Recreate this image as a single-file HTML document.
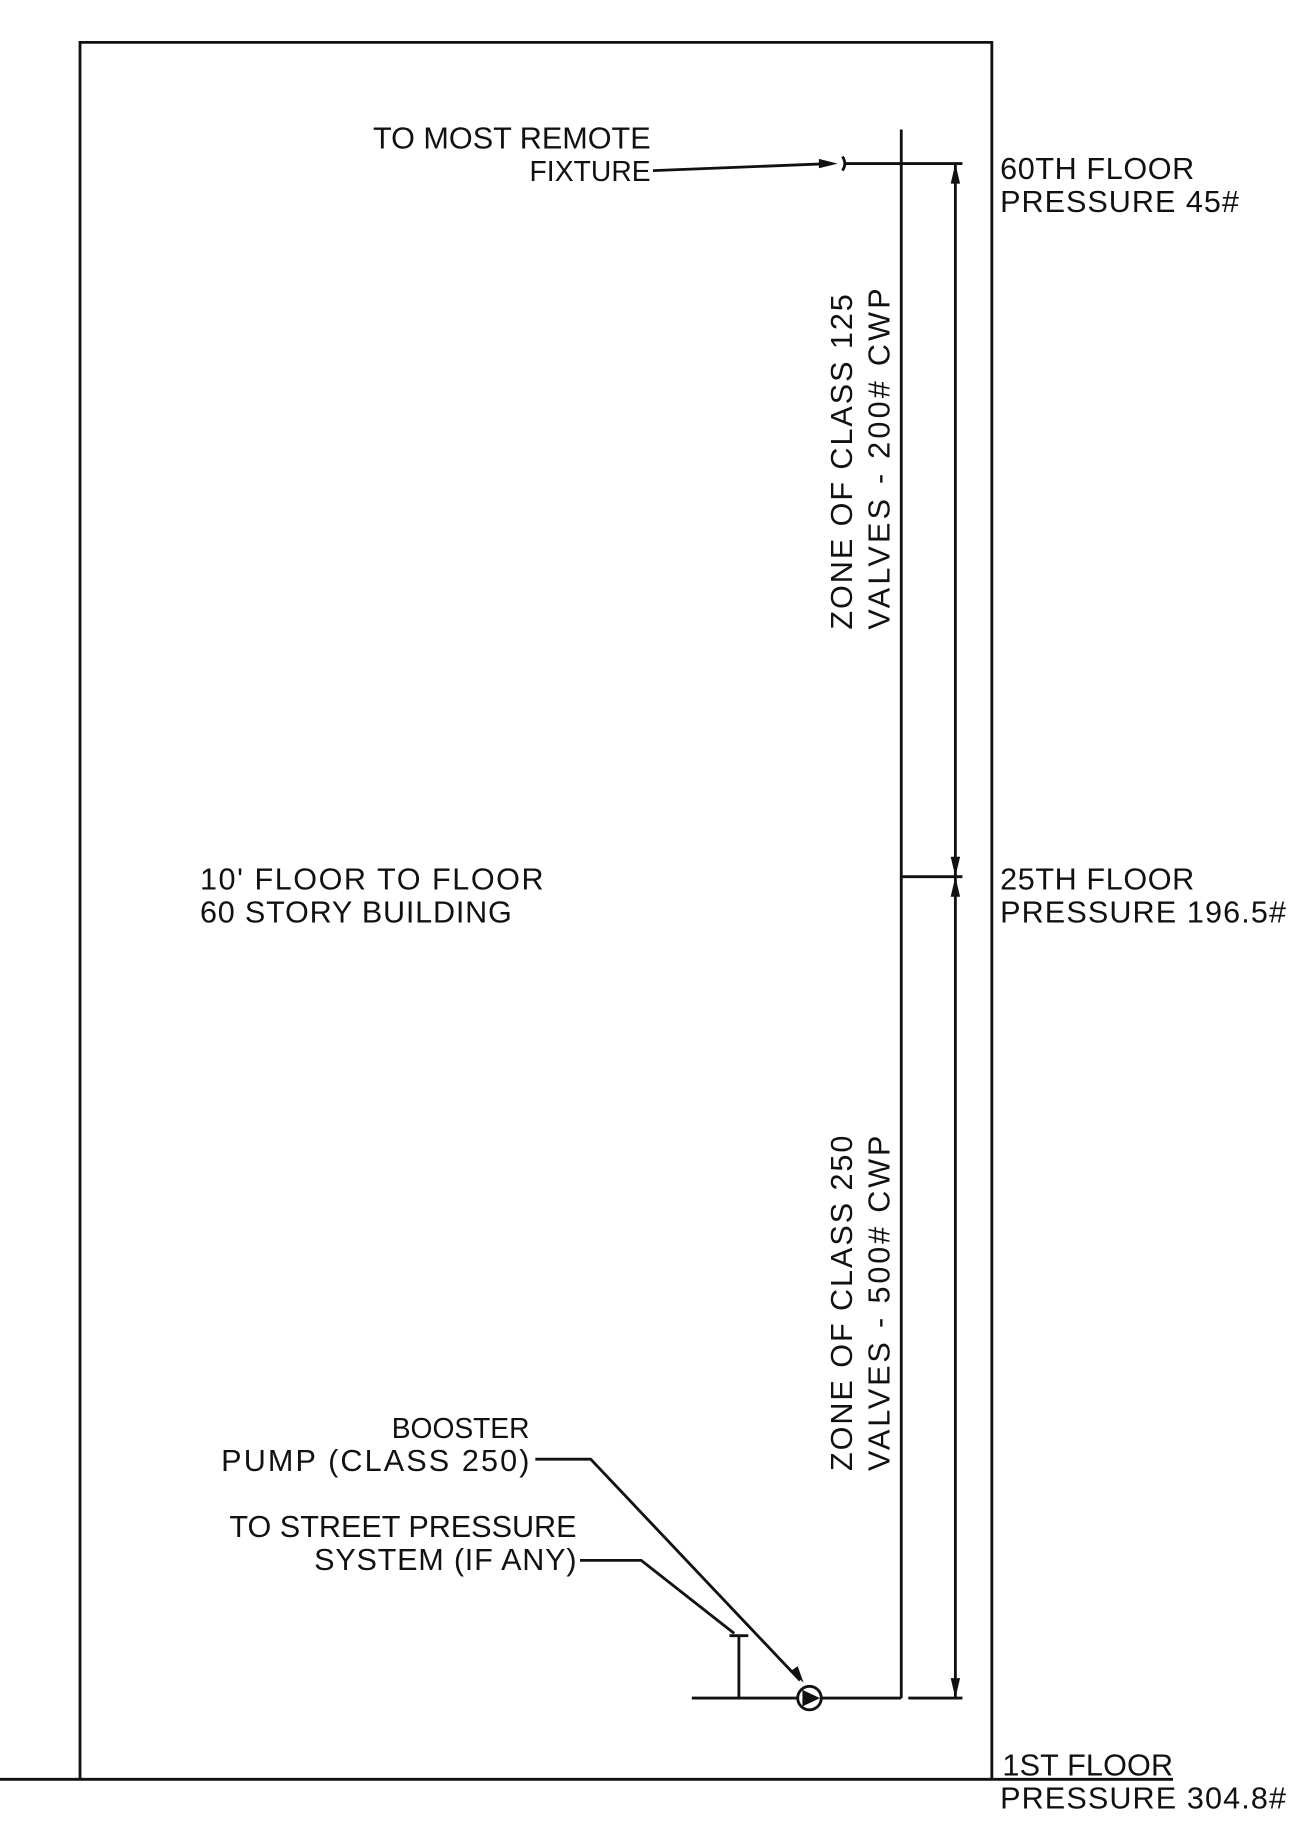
<!DOCTYPE html>
<html><head><meta charset="utf-8"><style>
html,body{margin:0;padding:0;background:#fff;}
svg{display:block;}
text{font-family:"Liberation Sans",sans-serif;font-size:26px;fill:#111;}
.s{font-size:24px;}
</style></head><body>
<svg width="1306" height="1844" viewBox="0 0 1110 1567" preserveAspectRatio="none" xmlns="http://www.w3.org/2000/svg">
<g stroke="#111" stroke-width="2.4" fill="none">
<polyline points="68,1512 68,36 843,36 843,1512"/>
<line x1="0" y1="1512" x2="997" y2="1512"/>
<line x1="766" y1="110" x2="766" y2="1443"/>
<line x1="718" y1="139" x2="818" y2="139"/>
<path d="M716,133 q4,6 0,12"/>
<polyline points="555,145 706,139"/>
<line x1="812" y1="139" x2="812" y2="1443"/>
<line x1="766" y1="745" x2="818" y2="745"/>
<line x1="588" y1="1443" x2="678" y2="1443"/>
<line x1="698" y1="1443" x2="766" y2="1443"/>
<line x1="772" y1="1443" x2="818" y2="1443"/>
<circle cx="688" cy="1443" r="10"/>
<line x1="628" y1="1390" x2="628" y2="1443"/>
<line x1="620" y1="1390" x2="636" y2="1390"/>
<polyline points="455,1240 502,1240 680,1428"/>
<polyline points="493,1326 545,1326 624,1388"/>
</g>
<g fill="#111">
<polygon points="812,139 808,156 816,156"/>
<polygon points="812,745 808,728 816,728"/>
<polygon points="812,745 808,762 816,762"/>
<polygon points="812,1443 808,1426 816,1426"/>
<polygon points="712,139 696,135 696,143"/>
<polygon points="683,1430 672,1420 678,1416"/>
<polygon points="697,1443 682,1436 682,1450"/>
</g>
<text x="317" y="126" textLength="236">TO MOST REMOTE</text>
<text class="s" x="450" y="154" textLength="103">FIXTURE</text>
<text x="850" y="152" textLength="165">60TH FLOOR</text>
<text x="850" y="180" textLength="203">PRESSURE 45#</text>
<text x="850" y="756" textLength="165">25TH FLOOR</text>
<text x="850" y="784" textLength="243">PRESSURE 196.5#</text>
<text x="852" y="1509" textLength="145">1ST FLOOR</text>
<text x="850" y="1537" textLength="243">PRESSURE 304.8#</text>
<text x="170" y="756" textLength="292">10' FLOOR TO FLOOR</text>
<text x="170" y="784" textLength="265">60 STORY BUILDING</text>
<text class="s" x="333" y="1222" textLength="117">BOOSTER</text>
<text x="188" y="1250" textLength="262">PUMP (CLASS 250)</text>
<text x="195" y="1306" textLength="295">TO STREET PRESSURE</text>
<text x="267" y="1334" textLength="223">SYSTEM (IF ANY)</text>
<text transform="translate(724,535) rotate(-90)" textLength="285">ZONE OF CLASS 125</text>
<text transform="translate(756,535) rotate(-90)" textLength="290">VALVES - 200# CWP</text>
<text transform="translate(724,1250) rotate(-90)" textLength="285">ZONE OF CLASS 250</text>
<text transform="translate(756,1250) rotate(-90)" textLength="285">VALVES - 500# CWP</text>
</svg>
</body></html>
